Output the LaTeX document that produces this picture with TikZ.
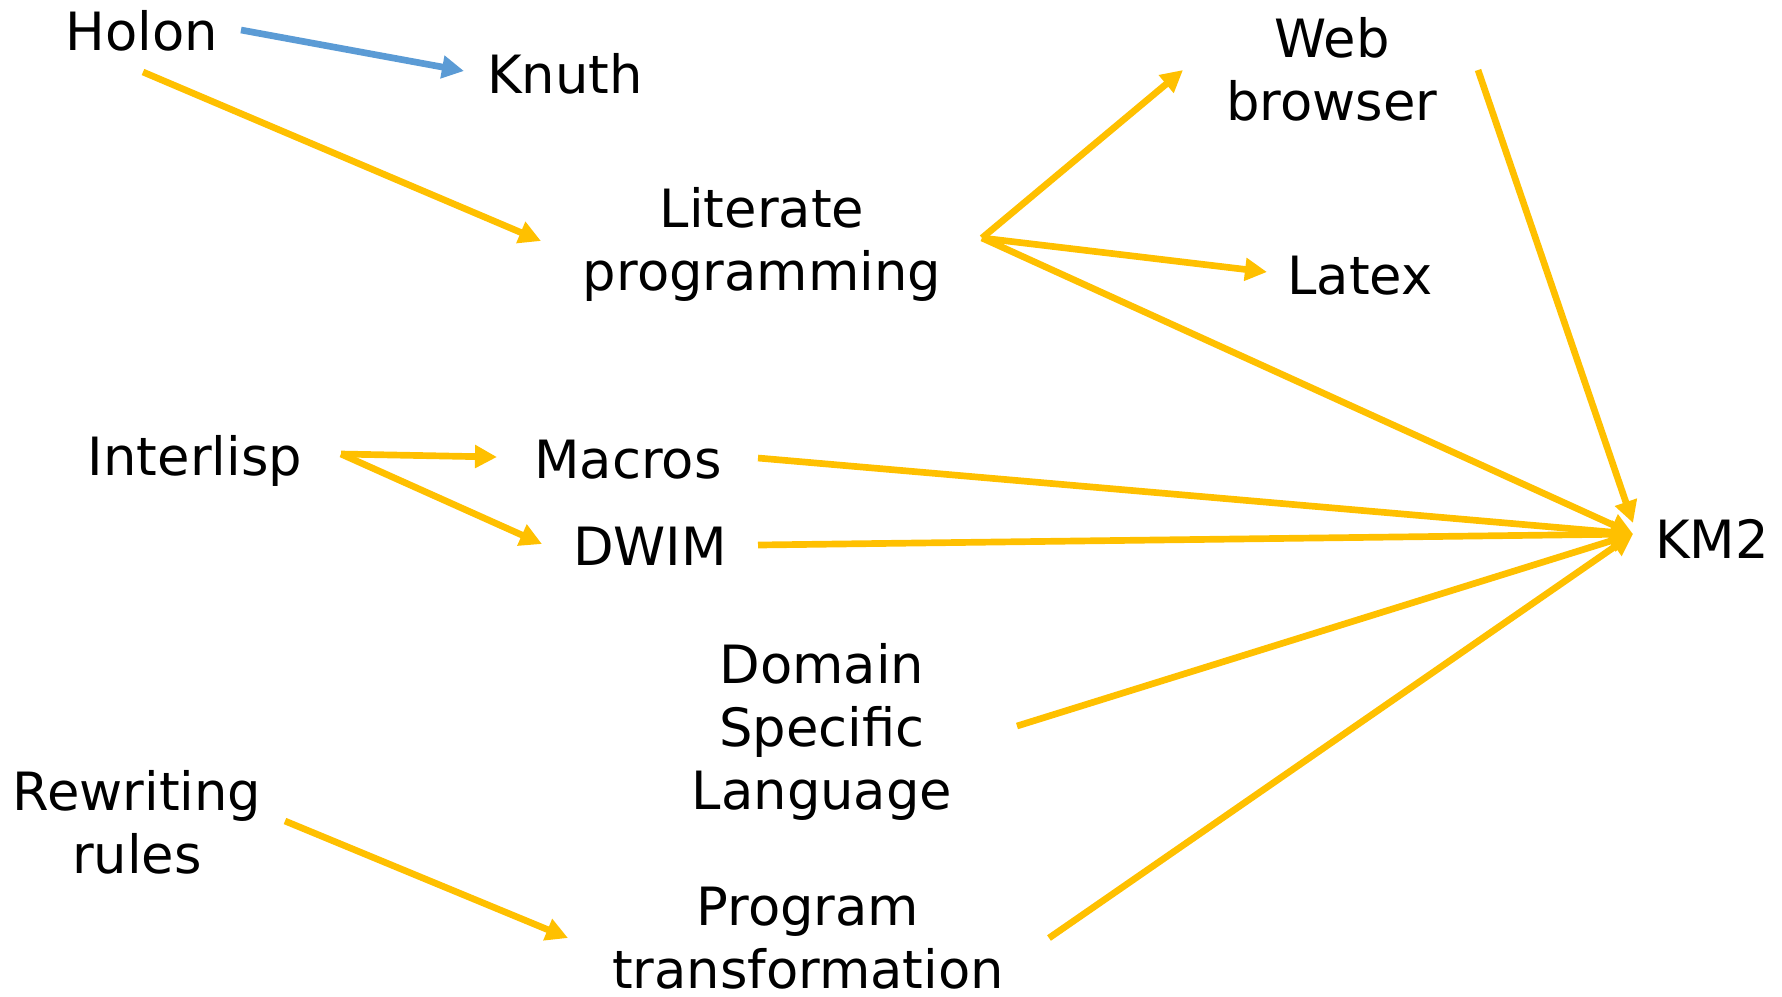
\documentclass[tikz,border=0pt]{standalone}
\usepackage{fontspec}
\setmainfont{DejaVu Sans}
\usetikzlibrary{arrows.meta}

\definecolor{gold}{HTML}{FFC000}
\definecolor{sky}{HTML}{5B9BD5}

\begin{document}
\begin{tikzpicture}[x=0.01cm,y=-0.01cm,>={Triangle[length=2.2mm,width=2.2mm]},
		word/.style={anchor=base,inner sep=0pt,align=center,font=\fontsize{15}{17.9}\selectfont},
		arr/.style={->,line width=1.9pt,color=gold}]
			\useasboundingbox (0,0) rectangle (1782,996);
			% topics (base = last line)
			\node[word] (holon) at (142,50) {Holon};
			\node[word] (knuth) at (565,93) {Knuth};
			\node[word] (litprog) at (762,290) {Literate\\programming};
			\node[word] (web) at (1332,120) {Web\\browser};
			\node[word] (latex) at (1360,294) {Latex};
			\node[word] (interlisp) at (195,475) {Interlisp};
			\node[word] (macros) at (628,478) {Macros};
			\node[word] (dwim) at (650,565) {DWIM};
			\node[word] (km2) at (1712,558) {KM2};
			\node[word] (dsl) at (822,809) {Domain\\Specific\\Language};
			\node[word] (rewriting) at (137,873) {Rewriting\\rules};
			\node[word] (progtrans) at (808,988) {Program\\transformation};
			% arrow ends
			\coordinate (holon_a) at (241,30);
			\coordinate (holon_b) at (143,72);
			\coordinate (knuth_in) at (464,71);
			\coordinate (litprog_in) at (541,241);
			\coordinate (litprog_out) at (982,238);
			\coordinate (web_in) at (1183,70);
			\coordinate (web_out) at (1478,70);
			\coordinate (latex_in) at (1267,272);
			\coordinate (interlisp_out) at (341,454);
			\coordinate (macros_in) at (497,457);
			\coordinate (macros_out) at (758,458);
			\coordinate (dwim_in) at (542,544);
			\coordinate (dwim_out) at (758,545);
			\coordinate (dsl_out) at (1017,726);
			\coordinate (rewriting_out) at (285,821);
			\coordinate (progtrans_in) at (568,938);
			\coordinate (progtrans_out) at (1049,938);
			\coordinate (km2_in) at (1633,534);
			\coordinate (km2_top) at (1633,523);
			\draw[arr,color=sky] (holon_a) -- (knuth_in);
			\path[arr]
				(holon_b) edge (litprog_in)
				(litprog_out) edge (web_in)
				(litprog_out) edge (latex_in)
				(litprog_out) edge (km2_in)
				(web_out) edge (km2_top)
				(interlisp_out) edge (macros_in)
				(interlisp_out) edge (dwim_in)
				(macros_out) edge (km2_in)
				(dwim_out) edge (km2_in)
				(dsl_out) edge (km2_in)
				(rewriting_out) edge (progtrans_in)
				(progtrans_out) edge (km2_in);
		\end{tikzpicture}
\end{document}
